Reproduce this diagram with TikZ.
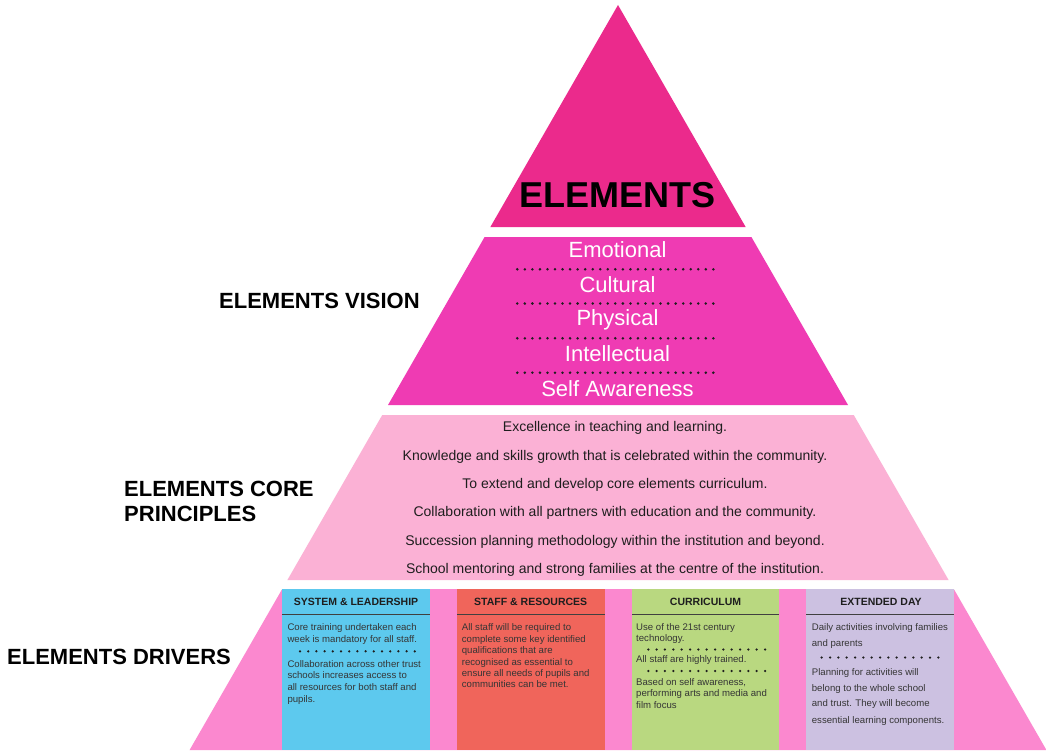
\documentclass[tikz,border=0pt]{standalone}
\usepackage{fontspec}
\setmainfont{Liberation Sans}
\definecolor{tipPink}{HTML}{EB2A8C}
\definecolor{visionPink}{HTML}{EF3BB3}
\definecolor{corePink}{HTML}{FBB1D5}
\definecolor{driverPink}{HTML}{FB88CF}
\definecolor{sysBlue}{HTML}{5DC9EE}
\definecolor{staffRed}{HTML}{F0655B}
\definecolor{currGreen}{HTML}{B9D880}
\definecolor{dayLilac}{HTML}{CCC1E1}
\definecolor{ink}{HTML}{1E1E1E}
\begin{document}
\begin{tikzpicture}[x=1pt,y=-1pt,
  sidelabel/.style={font=\fontsize{22}{24}\selectfont\bfseries, text=black, inner sep=0, anchor=west, align=left},
  visionword/.style={font=\fontsize{22}{24}\selectfont, text=white, inner sep=0},
  principle/.style={font=\fontsize{14}{16}\selectfont, text=ink, inner sep=0},
  boxhead/.style={font=\fontsize{10.5}{12}\selectfont\bfseries, text=ink, inner sep=0},
  boxline/.style={font=\fontsize{9.6}{11.5}\selectfont, text=ink!90, inner sep=0, anchor=base west},
  headrule/.style={draw=ink!85, line width=1.3pt},
  bigdot/.style={fill=ink},
]
\useasboundingbox (0,0) rectangle (1046,752);
\fill[white] (0,0) rectangle (1046,752);

% pyramid bands: apex (618,5), half width grows by 0.575 per unit of depth
\fill[tipPink]    (618,5) -- (745.65,227) -- (490.35,227) -- cycle;
\fill[visionPink] (484.6,237) -- (751.4,237) -- (848,405) -- (388,405) -- cycle;
\fill[corePink]   (382.25,415) -- (853.75,415) -- (948.6,580) -- (287.4,580) -- cycle;
\fill[driverPink] (282.2,589) -- (953.8,589) -- (1046.4,750) -- (189.6,750) -- cycle;

% apex title
\node[font=\fontsize{36}{40}\selectfont\bfseries, text=black, inner sep=0] (title) at (617,195) {ELEMENTS};

% vision words with dotted separators
\node[visionword] (emo) at (617.5,249.5) {Emotional};
\node[visionword] (cul) at (617.5,284.5) {Cultural};
\node[visionword] (phy) at (617.5,319.5) {Physical};
\node[visionword] (int) at (617.5,354) {Intellectual};
\node[visionword] (self) at (617.5,388.5) {Self Awareness};
\foreach \yy in {269.3,303.5,338.3,372.7}
  \foreach \k in {0,...,26}
    \fill[bigdot] (517.3+\k*7.54,\yy) circle (1.4);

% core principles
\node[principle] (p1) at (615,428.3) {Excellence in teaching and learning.};
\node[principle] (p2) at (615,456.7) {Knowledge and skills growth that is celebrated within the community.};
\node[principle] (p3) at (615,485) {To extend and develop core elements curriculum.};
\node[principle] (p4) at (615,513.3) {Collaboration with all partners with education and the community.};
\node[principle] (p5) at (615,541.7) {Succession planning methodology within the institution and beyond.};
\node[principle] (p6) at (615,570) {School mentoring and strong families at the centre of the institution.};

% side labels
\node[sidelabel] (lvision) at (219,300.5) {ELEMENTS VISION};
\node[sidelabel] (lcore) at (124,488.5) {ELEMENTS CORE};
\node[sidelabel] (lprinc) at (124,513.5) {PRINCIPLES};
\node[sidelabel] (ldrivers) at (7,657) {ELEMENTS DRIVERS};

% driver columns
\fill[sysBlue]   (282.2,589) rectangle (430,750);
\fill[staffRed]  (457,589) rectangle (604.5,750);
\fill[currGreen] (632,589) rectangle (779,750);
\fill[dayLilac]  (806,589) rectangle (953.8,750);

\node[boxhead] (h1) at (356.1,602) {SYSTEM \& LEADERSHIP};
\node[boxhead] (h2) at (530.7,602) {STAFF \& RESOURCES};
\node[boxhead] (h3) at (705.5,602) {CURRICULUM};
\node[boxhead] (h4) at (881,602) {EXTENDED DAY};
\draw[headrule] (282.2,614.3) -- (430,614.3);
\draw[headrule] (457,614.3) -- (604.5,614.3);
\draw[headrule] (632,614.3) -- (779,614.3);
\draw[headrule] (806,614.3) -- (953.8,614.3);

% system & leadership
\node[boxline] (s1) at (287.3,630.5) {Core training undertaken each};
\node[boxline] (s2) at (287.3,642) {week is mandatory for all staff.};
\foreach \k in {0,...,14} \fill[bigdot] (300+\k*8.2,651.3) circle (1.25);
\node[boxline] (s3) at (287.3,667) {Collaboration across other trust};
\node[boxline] (s4) at (287.3,678.7) {schools increases access to};
\node[boxline] (s5) at (287.3,690.3) {all resources for both staff and};
\node[boxline] (s6) at (287.3,702.5) {pupils.};

% staff & resources
\node[boxline] (r1) at (461.7,630.7) {All staff will be required to};
\node[boxline] (r2) at (461.7,642) {complete some key identified};
\node[boxline] (r3) at (461.7,653.3) {qualifications that are};
\node[boxline] (r4) at (461.7,665) {recognised as essential to};
\node[boxline] (r5) at (461.7,676.3) {ensure all needs of pupils and};
\node[boxline] (r6) at (461.7,687.7) {communities can be met.};

% curriculum
\node[boxline] (c1) at (636,630.3) {Use of the 21st century};
\node[boxline] (c2) at (636,641.3) {technology.};
\foreach \k in {0,...,14} \fill[bigdot] (648.3+\k*8.34,649.5) circle (1.25);
\node[boxline] (c3) at (636,662.5) {All staff are highly trained.};
\foreach \k in {0,...,14} \fill[bigdot] (648.3+\k*8.34,671) circle (1.25);
\node[boxline] (c4) at (636,685) {Based on self awareness,};
\node[boxline] (c5) at (636,696.5) {performing arts and media and};
\node[boxline] (c6) at (636,708) {film focus};

% extended day
\node[boxline] (e1) at (811.7,630.7) {Daily activities involving families};
\node[boxline] (e2) at (811.7,646.5) {and parents};
\foreach \k in {0,...,14} \fill[bigdot] (821.7+\k*8.33,657.5) circle (1.25);
\node[boxline] (e3) at (811.7,675.3) {Planning for activities will};
\node[boxline] (e4) at (811.7,691.2) {belong to the whole school};
\node[boxline] (e5) at (811.7,706.7) {and trust. They will become};
\node[boxline] (e6) at (811.7,723) {essential learning components.};
\end{tikzpicture}
\end{document}
